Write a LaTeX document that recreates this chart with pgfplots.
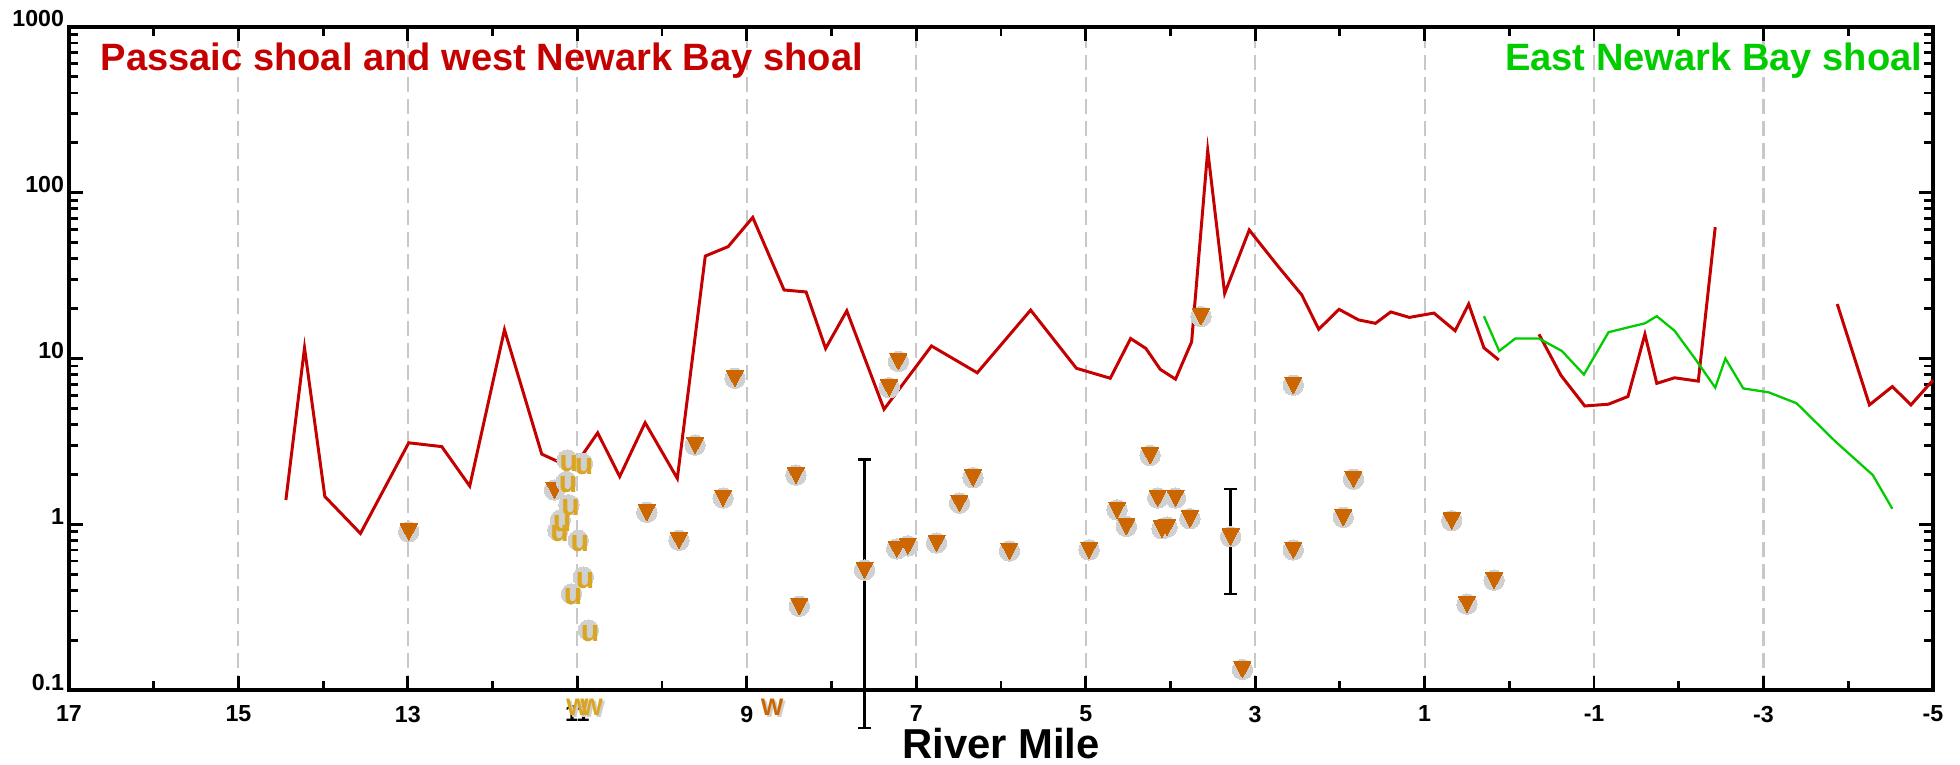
\documentclass[border=0pt]{standalone}
\usepackage{fontspec}
\setmainfont{Liberation Sans}
\usepackage{pgfplots}
\usepackage{pgfplotstable}
\pgfplotsset{compat=1.18}
\definecolor{redl}{RGB}{196,0,0}
\definecolor{greenl}{RGB}{0,204,0}
\definecolor{orangem}{RGB}{204,102,0}
\definecolor{graym}{RGB}{208,208,208}
\definecolor{goldm}{RGB}{218,165,32}
\definecolor{gridg}{RGB}{200,200,200}

\pgfplotstableread{
x y
12.99 0.90
11.27 1.61
10.18 1.18
9.80 0.80
9.61 3.0
9.28 1.44
9.14 7.6
8.42 1.98
8.38 0.32
7.61 0.53
7.32 6.67
7.21 9.6
7.23 0.71
7.10 0.74
6.76 0.77
6.49 1.34
6.33 1.91
5.90 0.69
4.96 0.70
4.63 1.22
4.52 0.97
4.24 2.6
4.15 1.44
3.94 1.44
4.10 0.94
4.04 0.96
3.77 1.08
3.64 17.9
3.29 0.84
3.15 0.133
2.55 6.9
2.55 0.70
1.96 1.10
1.84 1.87
0.68 1.05
0.50 0.33
0.18 0.46
}\tri

\pgfplotstableread{
x y
11.12 2.44
10.94 2.33
11.13 1.81
11.10 1.31
11.20 1.06
11.23 0.92
10.99 0.80
10.93 0.48
11.07 0.38
10.87 0.23
}\ud

\begin{document}
\begin{tikzpicture}
\begin{axis}[
 name=ax,
 scale only axis,
 width=18.64cm, height=6.63cm,
 x dir=reverse,
 xmin=-5, xmax=17,
 ymode=log, ymin=0.1, ymax=1000,
 xtick={-5,-3,-1,1,3,5,7,9,11,13,15,17},
 xticklabels={-5,-3,-1,1,3,5,7,9,11,13,15,17},
 minor xtick={-4,-2,0,2,4,6,8,10,12,14,16},
 ytick={0.1,1,10,100,1000},
 yticklabels={0.1,1,10,100,1000},
 minor ytick={0.2,0.3,0.4,0.5,0.6,0.7,0.8,0.9,2,3,4,5,6,7,8,9,20,30,40,50,60,70,80,90,200,300,400,500,600,700,800,900},
 tick align=inside,
 major tick length=4pt, minor tick length=2.6pt,
 xmajorgrids,
 major grid style={gridg, line width=0.6pt, dash pattern=on 4.3pt off 2pt},
 axis line style={line width=0.9pt},
 tick style={black, line width=0.8pt},
 tick label style={font=\bfseries\fontsize{6.6}{7}\selectfont},
 xticklabel style={anchor=north, inner sep=0pt, yshift=-4.3pt},
 yticklabel style={anchor=base east, inner sep=0pt, xshift=-1.2pt},
 xlabel={River Mile},
 xlabel style={at={(axis description cs:0.5,0)}, anchor=base, inner sep=0pt, yshift=-19.35pt, font=\bfseries\fontsize{11.9}{12}\selectfont},
 clip=false,
]

% red line, segment 1
\addplot[redl, line width=0.85pt, mark=none] coordinates {
(14.44,1.40) (14.22,11.6) (13.98,1.47) (13.56,0.88) (12.99,3.1) (12.60,2.94)
(12.27,1.70) (11.86,14.9) (11.42,2.65) (11.23,2.39) (10.94,2.62) (10.76,3.56)
(10.50,1.94) (10.20,4.10) (9.82,1.89) (9.49,41.5) (9.22,47.3) (8.93,71)
(8.56,25.9) (8.30,25.2) (8.07,11.5) (7.82,19.4) (7.38,4.94) (6.82,11.9)
(6.28,8.2) (5.65,19.6) (5.11,8.73) (4.71,7.6) (4.47,13.2) (4.29,11.5)
(4.12,8.6) (3.94,7.5) (3.75,12.6) (3.56,180) (3.36,24.7) (3.07,59.6)
(2.73,36) (2.45,24.2) (2.25,15.0) (2.01,19.8) (1.78,17.1) (1.58,16.3)
(1.40,19.1) (1.18,17.7) (0.89,18.8) (0.64,14.7) (0.48,21.3) (0.30,11.6) (0.125,9.8)
};
% red line, segment 2
\addplot[redl, line width=0.85pt, mark=none] coordinates {
(-0.35,14.0) (-0.61,7.9) (-0.89,5.17) (-1.17,5.3) (-1.40,5.9) (-1.60,14.0)
(-1.74,7.08) (-1.95,7.65) (-2.23,7.3) (-2.43,62)
};
% red line, segment 3
\addplot[redl, line width=0.85pt, mark=none] coordinates {
(-3.87,21.3) (-4.25,5.25) (-4.52,6.77) (-4.74,5.25) (-5.0,7.4)
};
% green line
\addplot[greenl, line width=0.65pt, mark=none] coordinates {
(0.30,18.0) (0.12,11.1) (-0.07,13.2) (-0.35,13.2) (-0.62,11.1) (-0.88,8.0)
(-1.17,14.4) (-1.40,15.4) (-1.60,16.3) (-1.74,18.0) (-1.95,14.7) (-2.19,10.0)
(-2.43,6.67) (-2.55,10.0) (-2.76,6.6) (-3.06,6.25) (-3.39,5.37) (-3.85,3.15)
(-4.29,1.98) (-4.52,1.24)
};

% error bars
\addplot[black, line width=0.8pt, only marks, mark=none,
  error bars/.cd, y dir=both, y explicit, error mark=-,
  error bar style={black, line width=0.8pt},
  error mark options={black, line width=0.8pt, mark size=1.9pt, rotate=90}]
coordinates {
(7.61,0.53) += (0,1.94) -= (0,0.471)
(3.29,0.84) += (0,0.79) -= (0,0.46)
};

% sediment samples (triangles on gray discs)
\addplot[graym, only marks, mark=*, mark size=2.9pt, mark options={draw=graym, fill=graym, line width=0pt}] table {\tri};
\addplot[orangem, only marks, mark=triangle*, mark size=2.8pt,
  mark options={draw=orangem, fill=orangem, line width=0pt, yshift=0.7pt, rotate=180, yscale=1.1}] table {\tri};

% u markers
\addplot[graym, only marks, mark=*, mark size=2.9pt, mark options={draw=graym, fill=graym, line width=0pt}] table {\ud};
\addplot[draw=none, mark=none, nodes near coords={u},
  every node near coord/.style={anchor=center, inner sep=0pt, text=goldm,
    font=\bfseries\fontsize{8.6}{8}\selectfont, xshift=0.5pt, yshift=-0.9pt}] table {\ud};

% W markers
\addplot[draw=none, mark=none, nodes near coords={W},
  every node near coord/.style={anchor=center, inner sep=0pt, text=graym,
    font=\bfseries\fontsize{6.8}{7}\selectfont, xshift=0.6pt, yshift=-0.6pt}]
coordinates {(11.0,0.079) (10.83,0.079) (8.70,0.079)};
\addplot[draw=none, mark=none, nodes near coords={W},
  every node near coord/.style={anchor=center, inner sep=0pt, text=goldm,
    font=\bfseries\fontsize{6.8}{7}\selectfont}]
coordinates {(11.0,0.079) (10.83,0.079)};
\addplot[draw=none, mark=none, nodes near coords={W},
  every node near coord/.style={anchor=center, inner sep=0pt, text=orangem,
    font=\bfseries\fontsize{6.8}{7}\selectfont}]
coordinates {(8.70,0.079)};

\node[anchor=base west, inner sep=0pt, text=redl, font=\bfseries\fontsize{10.84}{12}\selectfont]
  at (axis description cs:0.01663,0.9351) {Passaic shoal and west Newark Bay shoal};
\node[anchor=base east, inner sep=0pt, text=greenl, font=\bfseries\fontsize{10.84}{12}\selectfont]
  at (axis description cs:0.9946,0.9351) {East Newark Bay shoal};
\end{axis}
\pgfresetboundingbox
\path (ax.south west) ++(-0.69cm,-0.75cm) rectangle ++(19.6cm,7.65cm);
\end{tikzpicture}
\end{document}
